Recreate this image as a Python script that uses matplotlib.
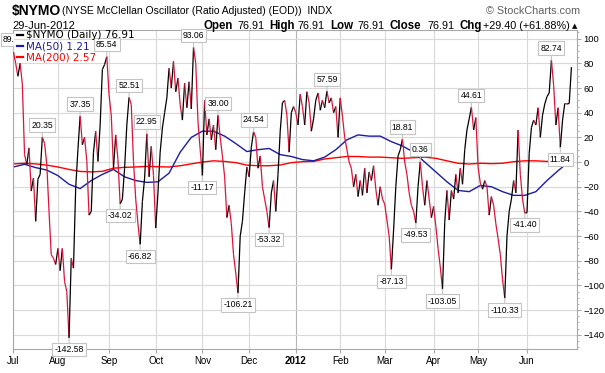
import numpy as np
import matplotlib.pyplot as plt
from matplotlib.collections import LineCollection
from matplotlib.transforms import Bbox, TransformedBbox

# month labels sit on the first trading day of each month (index into the daily series)
months = ['Jul', 'Aug', 'Sep', 'Oct', 'Nov', 'Dec', '2012', 'Feb', 'Mar', 'Apr', 'May', 'Jun']
month_start = [0, 20, 43, 64, 85, 106, 127, 147, 167, 189, 209, 231]

# $NYMO daily closes, Jul 2011 - Jun 2012
nymo_jul = [89.5, 80, 69.5, 80, 63, 6, -2, 11.5, -23.5, -13, -48, -14, -10, 20.35, 15, -2, -40, -75, -78, -83]
nymo_aug = [-70, -88, -70, -97, -105, -142.58, -78, -86, -21, 10, 37.35, 14, 20, 1, -43, -40, 8, 25, 0.5,
            30, 75, 79, 85.54]
nymo_sep = [54.6, 38, -5, 22, 2, -34.02, -30, -5, 30, 52.51, 46.5, 0.5, -30, -50, -66.82, -32, -13, 22.95,
            -12, 12.7, -11]
nymo_oct = [-53.5, -25, 8, 27.6, 40, 52, 76, 60, 81.6, 57, 68, 46.5, 34, 64, 44, 65, 43, 93.06, 80, 33, 10]
nymo_nov = [-11.17, 50, 22, 35, 18, 30, 10, 38.00, 20, 5, -12, -45, -35, -50, -75, -90, -106.21, -60, -48, -25, -4]
nymo_dec = [-12, 12, 24.54, 20, -5, 5, -20, -30, -40, -53.32, -25, -15, -40, -10, 25, 48, 50, 38, 8, 40, 45]
nymo_jan = [40, 30, 55, 45, 30, 57, 48, 25, 35, 50, 56, 42, 50, 44, 57.59, 48, 52, 40, 45, 20]
nymo_feb = [52, 37, 20, 10, 0, -5, -20, -10, -28, -15, -27, -5, -25, -8, -15, -3, -22, -35, -20, -30]
nymo_mar = [-34, -47, -60, -87.13, -55, -20, 5, 10, 18.81, 0, -10, -25, -35, -40, -49.53, -20, 0.36, -20, -35,
            -15, -30, -45]
nymo_apr = [-36, -52, -70, -85, -103.05, -49, -23, -47, -23, -30, -10, -25, -5, -18, 10, 26, 35, 44.61, 26, 36]
nymo_may = [-4, -17, -22, -15, -20, -43, -28, -35, -50, -62, -75, -95, -110.33, -60, -40, -30, -15, -25, 26, -10,
            -30, -41.40]
nymo_jun = [-41, 7, 28, 34, 30, 44, 20, 38, 47, 53, 56, 82.74, 62, 30, 44, 11.84, 34, 47.5, 47, 47.51, 76.91]

nymo = np.array(nymo_jul + nymo_aug + nymo_sep + nymo_oct + nymo_nov + nymo_dec +
                nymo_jan + nymo_feb + nymo_mar + nymo_apr + nymo_may + nymo_jun)

# moving averages, read every 5th trading day
ma_idx = list(range(0, 251, 5)) + [251]
ma50 = [-4, -1.8, -4.5, -6.5, -11, -18, -21.5, -15, -10, -6, -12, -15, -16.5, -16, -9, 8, 20, 25, 25, 21,
        15, 8.5, 10, 11, 6, 4.5, 2, 1, 4, 10, 18, 22, 21, 21, 16.5, 13, 8, 0, -8, -16,
        -23, -24, -19, -20, -24, -27, -27, -24, -15, -7, 0.5, 1.21]
ma200 = [-1.5, -1, -1.5, -2.5, -4, -6, -7.6, -8, -7.5, -5, -4.3, -4, -3.5, -3.8, -4, -3, -1.5, 0, 1, 0.5,
         -0.5, -2.5, -3, -3, -2.4, -0.5, 0.3, 0.5, 2.5, 3.5, 4.5, 4.5, 4, 4, 3.5, 3, 3.5, 4, 3, 1,
         -1, -1.6, -1, -1.3, -1, 0.3, 1, 1, 0.5, 0.8, 2.3, 2.57]

# labelled highs (box above) and lows (box below)
peaks = [0, 13, 30, 42, 52, 60, 81, 92, 108, 141, 175, 183, 206, 242]
troughs = [25, 48, 57, 85, 101, 115, 170, 181, 193, 221, 230, 246]

W, H = 605, 373
fig = plt.figure(figsize=(W / 100, H / 100), dpi=100)
ax = fig.add_axes([13 / W, 24 / H, 564 / W, 319 / H])

ax.set_xlim(-0.2, 253.5)
ax.set_ylim(-151.5, 107)

grid_c = '#d9d9d9'
for i, m in zip(month_start, months):
    ax.axvline(i, color='#b5b5b5' if m == '2012' else grid_c, lw=0.8, zorder=0)
ax.set_yticks(np.arange(-140, 101, 20))
ax.set_yticks(np.arange(-150, 106, 5), minor=True)
ax.grid(axis='y', which='major', color=grid_c, lw=0.8, zorder=0)

# price line: black on up days, crimson on down days
x = np.arange(len(nymo))
segs = np.stack([np.column_stack([x[:-1], nymo[:-1]]), np.column_stack([x[1:], nymo[1:]])], axis=1)
cols = ['#000000' if b >= a else '#dc143c' for a, b in zip(nymo[:-1], nymo[1:])]
ax.add_collection(LineCollection(segs, colors=cols, linewidths=0.9, zorder=3))

ax.plot(ma_idx, ma200, color='#ff0000', lw=1.0, zorder=2)
ax.plot(ma_idx, ma50, color='#1c1ca0', lw=1.0, zorder=2)

# the first label sits under the legend in the original: only its left part shows
left_clip = TransformedBbox(Bbox([[0, 0], [14 / W, 1]]), fig.transFigure)

box = dict(boxstyle='square,pad=0.25', fc='white', ec='#c4c4c4', lw=0.8)
arr = dict(arrowstyle='-', color='#c4c4c4', lw=0.8, shrinkA=0, shrinkB=0)
for idx_list, dy in ((peaks, 8.5), (troughs, -8.5)):
    for i in idx_list:
        ann = ax.annotate(f'{nymo[i]:.2f}', xy=(i, nymo[i]), xytext=(0, dy), textcoords='offset points',
                          ha='center', va='center', fontsize=6.2, family='Liberation Sans',
                          bbox=box, arrowprops=arr, annotation_clip=False, zorder=6)
        if i == 0:
            ann.set_clip_on(True)
            ann.set_clip_box(left_clip)
            ann.arrow_patch.set_clip_box(left_clip)

# axes styling
for s in ax.spines.values():
    s.set_color('#a8a8a8')
    s.set_linewidth(0.8)
ax.yaxis.tick_right()
ax.tick_params(axis='y', which='major', length=3, color='#a8a8a8', labelsize=6.7, pad=1.5)
ax.tick_params(axis='y', which='minor', length=1.5, color='#a8a8a8')
for t in ax.get_yticklabels():
    t.set_family('Liberation Sans')
ax.set_xticks(month_start)
ax.set_xticklabels(months)
ax.tick_params(axis='x', length=3, color='#a8a8a8', labelsize=7, pad=2)
for t in ax.get_xticklabels():
    t.set_family('Liberation Sans')
    if t.get_text() == '2012':
        t.set_fontweight('bold')

# header
fig.text(12 / W, 1 - 11 / H, '$NYMO', fontsize=10, fontweight='bold', family='Liberation Sans', va='center')
fig.text(62 / W, 1 - 11 / H, '(NYSE McClellan Oscillator (Ratio Adjusted) (EOD))  INDX', fontsize=7.5,
         family='Liberation Sans', va='center')
fig.text(580 / W, 1 - 11 / H, '\u00a9 StockCharts.com', fontsize=7.8, family='Liberation Sans',
         color='#606060', va='center', ha='right')
fig.text(12 / W, 1 - 26 / H, '29-Jun-2012', fontsize=8, family='Liberation Sans', va='center')
parts = [(204, 'Open', True), (237, '76.91', False), (269, 'High', True), (297, '76.91', False),
         (330, 'Low', True), (357, '76.91', False), (390, 'Close', True), (428, '76.91', False),
         (459, 'Chg', True), (483, '+29.40 (+61.88%)', False)]
for px, s, b in parts:
    fig.text(px / W, 1 - 26 / H, s, fontsize=8.3 if b else 7.8, family='Liberation Sans',
             fontweight='bold' if b else 'normal', va='center')
fig.text(575 / W, 1 - 26 / H, '\u25b2', fontsize=5, family='DejaVu Sans', va='center', ha='center')

# legend
leg = [('$NYMO (Daily) 76.91', '#000000'), ('MA(50) 1.21', '#1c1ca0'), ('MA(200) 2.57', '#ff0000')]
for k, (s, c) in enumerate(leg):
    yy = 1 - (35 + k * 11.2) / H
    fig.lines.append(plt.Line2D([17 / W, 23 / W], [yy, yy], color=c, lw=1.6, transform=fig.transFigure))
    fig.text(26 / W, yy, s, fontsize=7.5, family='DejaVu Sans', color=c, va='center')

fig.savefig('out.png', dpi=100, facecolor='white')
